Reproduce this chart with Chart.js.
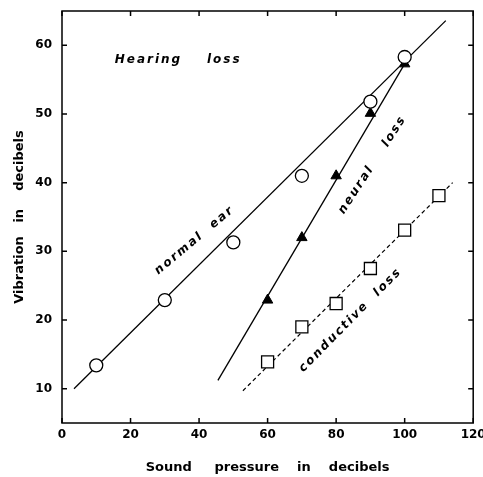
<!DOCTYPE html>
<html>
<head>
<meta charset="UTF-8">
<title>Hearing loss</title>
<script src="https://cdn.jsdelivr.net/npm/chart.js"></script>
<style>
  body {
    margin: 0;
    padding: 0;
    background-color: #fff;
  }
  canvas {
    display: block;
  }
</style>
</head>
<body>
<canvas id="hearingChart" width="483" height="477"></canvas>

<script>
  // tick values
  const xTicks = [0, 20, 40, 60, 80, 100, 120];
  const yTicks = [10, 20, 30, 40, 50, 60];

  // measured points
  const normalX = [10, 30, 50, 70, 90, 100];
  const normalY = [13.4, 22.9, 31.3, 41, 51.8, 58.3];
  const neuralX = [60, 70, 80, 90, 100];
  const neuralY = [22.9, 32, 41, 50.1, 57.3];
  const conductiveX = [60, 70, 80, 90, 100, 110];
  const conductiveY = [13.9, 19, 22.4, 27.5, 33.1, 38.1];

  // fitted lines (end points)
  const normalFitX = [3.5, 112];
  const normalFitY = [10, 63.6];
  const neuralFitX = [45.5, 100];
  const neuralFitY = [11.2, 57.3];
  const conductiveFitX = [52.8, 114];
  const conductiveFitY = [9.7, 40];

  const notes = [
    { text: "Hearing    loss", x: 15.4, y: 57.9, angle: 0, align: "left" },
    { text: "normal  ear", x: 38.7, y: 31.6, angle: 40, align: "center" },
    { text: "neural    loss", x: 90.6, y: 42.6, angle: 57, align: "center" },
    { text: "conductive  loss", x: 84.2, y: 20, angle: 45.5, align: "center" }
  ];

  function pairs(xs, ys) {
    return xs.map((v, i) => ({ x: v, y: ys[i] }));
  }

  const frameAndNotes = {
    id: "frameAndNotes",
    afterDraw(chart) {
      const { ctx, chartArea: a, scales: { x, y } } = chart;
      ctx.save();
      ctx.strokeStyle = "#000";
      ctx.lineWidth = 1.5;
      ctx.strokeRect(a.left, a.top, a.right - a.left, a.bottom - a.top);
      ctx.beginPath();
      xTicks.forEach(v => {
        const px = x.getPixelForValue(v);
        ctx.moveTo(px, a.bottom); ctx.lineTo(px, a.bottom - 5);
        ctx.moveTo(px, a.top); ctx.lineTo(px, a.top + 5);
      });
      yTicks.forEach(v => {
        const py = y.getPixelForValue(v);
        ctx.moveTo(a.left, py); ctx.lineTo(a.left + 5, py);
        ctx.moveTo(a.right, py); ctx.lineTo(a.right - 5, py);
      });
      ctx.stroke();

      ctx.font = 'italic bold 12px "DejaVu Sans"';
      ctx.letterSpacing = "2px";
      ctx.fillStyle = "#000";
      notes.forEach(n => {
        ctx.save();
        ctx.translate(x.getPixelForValue(n.x), y.getPixelForValue(n.y));
        ctx.rotate(-n.angle * Math.PI / 180);
        ctx.textAlign = n.align;
        ctx.textBaseline = "middle";
        ctx.fillText(n.text, 0, 0);
        ctx.restore();
      });
      ctx.restore();
    }
  };

  const tickFont = { family: "DejaVu Sans", size: 12, weight: "bold" };
  const titleFont = { family: "DejaVu Sans", size: 13, weight: "bold" };

  new Chart(document.getElementById("hearingChart").getContext("2d"), {
    type: "scatter",
    data: {
      datasets: [
        {
          data: pairs(normalFitX, normalFitY),
          showLine: true, borderColor: "#000", borderWidth: 1.3,
          pointRadius: 0, order: 3
        },
        {
          data: pairs(neuralFitX, neuralFitY),
          showLine: true, borderColor: "#000", borderWidth: 1.3,
          pointRadius: 0, order: 3
        },
        {
          data: pairs(conductiveFitX, conductiveFitY),
          showLine: true, borderColor: "#000", borderWidth: 1.2,
          borderDash: [4, 3], pointRadius: 0, order: 3
        },
        {
          label: "normal ear",
          data: pairs(normalX, normalY),
          pointStyle: "circle", pointRadius: 6.5,
          backgroundColor: "#fff", borderColor: "#000", borderWidth: 1.3, order: 0
        },
        {
          label: "neural loss",
          data: pairs(neuralX, neuralY),
          pointStyle: "triangle", pointRadius: 6,
          backgroundColor: "#000", borderColor: "#000", borderWidth: 1, order: 0
        },
        {
          label: "conductive loss",
          data: pairs(conductiveX, conductiveY),
          pointStyle: "rect", pointRadius: 8.5,
          backgroundColor: "#fff", borderColor: "#000", borderWidth: 1.3, order: 0
        }
      ]
    },
    options: {
      responsive: false,
      animation: false,
      devicePixelRatio: 1,
      events: [],
      layout: { padding: { left: 0, right: 9, top: 11, bottom: 2 } },
      plugins: {
        legend: { display: false },
        tooltip: { enabled: false }
      },
      scales: {
        x: {
          type: "linear",
          min: 0,
          max: 120,
          afterBuildTicks: scale => { scale.ticks = xTicks.map(v => ({ value: v })); },
          afterFit: scale => {
            scale.height = 52;
            scale.paddingLeft = 0;
            scale.paddingRight = 0;
          },
          grid: { display: false, drawTicks: false },
          border: { display: false },
          ticks: { font: tickFont, color: "#000", padding: 5, maxRotation: 0, autoSkip: false },
          title: {
            display: true,
            text: "Sound     pressure    in    decibels",
            font: titleFont,
            color: "#000",
            padding: { top: 0, bottom: 0 }
          }
        },
        y: {
          type: "linear",
          min: 5,
          max: 65,
          afterBuildTicks: scale => { scale.ticks = yTicks.map(v => ({ value: v })); },
          afterFit: scale => {
            scale.width = 62;
            scale.paddingTop = 0;
            scale.paddingBottom = 0;
          },
          grid: { display: false, drawTicks: false },
          border: { display: false },
          ticks: { font: tickFont, color: "#000", padding: 10, autoSkip: false },
          title: {
            display: true,
            text: "Vibration   in    decibels",
            font: titleFont,
            color: "#000",
            padding: { top: 12, bottom: 0 }
          }
        }
      }
    },
    plugins: [frameAndNotes]
  });
</script>
</body>
</html>
